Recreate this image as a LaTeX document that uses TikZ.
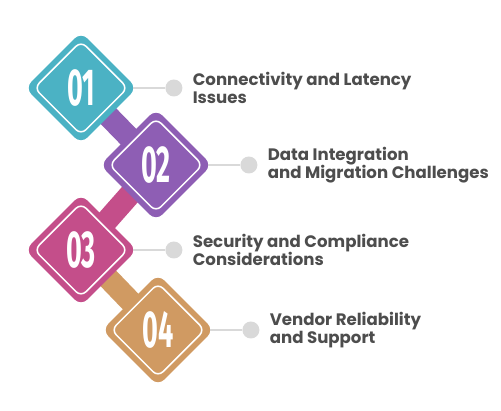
\documentclass[tikz,border=0pt]{standalone}
\usepackage{fontspec}
\setsansfont{Poppins}
\newfontfamily\numfont{Fira Sans}
\usetikzlibrary{positioning,shapes.geometric}
\definecolor{tealtile}{RGB}{75,178,196}
\definecolor{purpletile}{RGB}{142,94,180}
\definecolor{magentatile}{RGB}{196,78,138}
\definecolor{tantile}{RGB}{208,154,98}
\definecolor{textgray}{RGB}{77,77,77}
\definecolor{dotgray}{RGB}{217,217,217}
\newcommand{\tilenum}[1]{\scalebox{0.52}[1]{\numfont\bfseries\fontsize{52}{52}\selectfont #1}}

\begin{document}
\begin{tikzpicture}[
  x=1pt,y=1pt,
  node distance=28pt,
  tile/.style={diamond,rounded corners=9pt,minimum size=112pt,inner sep=0pt,text=white},
  rim/.style={diamond,rounded corners=7pt,draw=white,line width=1.5pt,minimum size=94pt,inner sep=0pt},
  bar/.style={line width=22pt},
  dot/.style={circle,fill=dotgray,minimum size=17pt,inner sep=0pt},
  stem/.style={draw=dotgray,line width=1.8pt,shorten <=-4pt},
  item/.style={inner sep=0pt,align=left,text=textgray,font=\sffamily\bfseries\fontsize{16.6}{18.5}\selectfont}
]
  \useasboundingbox (0,0) rectangle (501,410);
  \coordinate (c1) at (81,322);
  \coordinate (c2) at (156,245);
  \coordinate (c3) at (81,160);
  \coordinate (c4) at (158,80);
  % links between the tiles
  \draw[bar,purpletile] (c1) -- (c2);
  \draw[bar,magentatile] (c2) -- (c3);
  \draw[bar,tantile] (c3) -- (c4);
  % tiles
  \node[tile,fill=tealtile] (d1) at (c1) {\tilenum{01}};
  \node[rim] (r1) at (c1) {};
  \node[tile,fill=purpletile] (d2) at (c2) {\tilenum{02}};
  \node[rim] (r2) at (c2) {};
  \node[tile,fill=magentatile] (d3) at (c3) {\tilenum{03}};
  \node[rim] (r3) at (c3) {};
  \node[tile,fill=tantile] (d4) at (c4) {\tilenum{04}};
  \node[rim] (r4) at (c4) {};
  % labels
  \node[dot,right=of d1] (p1) {};
  \node[dot,right=of d2] (p2) {};
  \node[dot,right=of d3] (p3) {};
  \node[dot,right=of d4] (p4) {};
  \draw[stem] (d1) -- (p1);
  \draw[stem] (d2) -- (p2);
  \draw[stem] (d3) -- (p3);
  \draw[stem] (d4) -- (p4);
  \node[item,right=10pt of p1] (t1) {Connectivity and Latency\\Issues};
  \node[item,right=10pt of p2] (t2) {Data Integration\\and Migration Challenges};
  \node[item,right=10pt of p3] (t3) {Security and Compliance\\Considerations};
  \node[item,right=10pt of p4] (t4) {Vendor Reliability\\and Support};
\end{tikzpicture}
\end{document}
